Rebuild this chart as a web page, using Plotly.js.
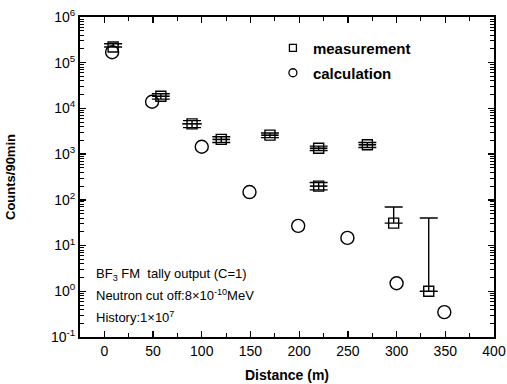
<!DOCTYPE html>
<html>
<head>
<meta charset="utf-8">
<script src="https://cdn.plot.ly/plotly-3.0.1.min.js"></script>
<style>html,body{margin:0;padding:0;background:#fff;}#chart{width:507px;height:384px;}</style>
</head>
<body>
<div id="chart"></div>
<script>
// Measurement (squares)
const measDistance = [9, 58, 90, 120, 170, 220, 220, 270, 297, 333];
const measCounts   = [2.2e5, 1.85e4, 4.6e3, 2.1e3, 2.6e3, 1.35e3, 200, 1.6e3, 31, 1.0];
const measErrXPlus = [0, 9, 10, 9, 9, 9, 9, 9, 0, 0];
const measErrYPlus = [0.4e5, 2500, 800, 300, 300, 150, 40, 200, 39, 39];
const measErrYMinus= [0, 2500, 800, 300, 300, 150, 35, 200, 0, 0];
// Calculation (circles)
const calcDistance = [8, 49, 100, 149, 199, 249.5, 300, 349];
const calcCounts   = [1.7e5, 1.4e4, 1.45e3, 148, 27, 14.7, 1.5, 0.35];
// Axis ticks
const yTickVals = [0.1, 1, 10, 100, 1e3, 1e4, 1e5, 1e6];
const yTickText = ['10<sup>-1</sup>','10<sup>0</sup>','10<sup>1</sup>','10<sup>2</sup>','10<sup>3</sup>','10<sup>4</sup>','10<sup>5</sup>','10<sup>6</sup>'];
const seriesNames = ['measurement', 'calculation'];

const yMinor = [];
for (let e = -1; e < 6; e++) for (let m = 2; m <= 9; m++) yMinor.push(m * Math.pow(10, e));

const FONT = 'Liberation Sans, Arial, sans-serif';

const traces = [
  {
    x: measDistance, y: measCounts, type: 'scatter', mode: 'markers',
    name: seriesNames[0], showlegend: false,
    marker: {symbol: 'square-open', size: 10, color: '#000', line: {width: 1.4, color: '#000'}},
    error_x: {type: 'data', array: measErrXPlus, symmetric: true, width: 0, thickness: 1.6, color: '#000'},
    error_y: {type: 'data', array: measErrYPlus, arrayminus: measErrYMinus, symmetric: false, width: 9, thickness: 1.4, color: '#000'}
  },
  {
    x: calcDistance, y: calcCounts, type: 'scatter', mode: 'markers',
    name: seriesNames[1], showlegend: false,
    marker: {symbol: 'circle-open', size: 13, color: '#000', line: {width: 1.4, color: '#000'}}
  },
  // legend entries (small symbols as in the reference key)
  {
    x: [null], y: [null], type: 'scatter', mode: 'markers', name: seriesNames[0], legend: 'legend',
    marker: {symbol: 'square-open', size: 7, color: '#000', line: {width: 1.3, color: '#000'}}
  },
  {
    x: [null], y: [null], type: 'scatter', mode: 'markers', name: seriesNames[1], legend: 'legend2',
    marker: {symbol: 'circle-open', size: 8, color: '#000', line: {width: 1.3, color: '#000'}}
  }
];

const legendFont = {size: 15, family: FONT, weight: 'bold'};

const layout = {
  width: 507, height: 384,
  margin: {l: 80, r: 13, t: 17, b: 47},
  paper_bgcolor: '#fff', plot_bgcolor: '#fff',
  font: {family: FONT, color: '#000', size: 13},
  xaxis: {
    range: [-25, 400], dtick: 50, tick0: 0,
    ticks: 'inside', ticklen: 6, tickwidth: 1.3, tickcolor: '#000',
    showline: true, linewidth: 2, linecolor: '#000', mirror: 'ticks',
    showgrid: false, zeroline: false,
    minor: {dtick: 25, ticks: 'inside', ticklen: 4, tickwidth: 1, tickcolor: '#000', showgrid: false},
    tickfont: {size: 14, family: FONT},
    title: {text: '<b>Distance (m)</b>', font: {size: 14, family: FONT}, standoff: 12}
  },
  yaxis: {
    type: 'log', range: [-1, 6],
    tickvals: yTickVals, ticktext: yTickText,
    ticks: 'inside', ticklen: 6, tickwidth: 1.3, tickcolor: '#000',
    showline: true, linewidth: 2, linecolor: '#000', mirror: 'ticks',
    showgrid: false, zeroline: false,
    minor: {tickvals: yMinor, ticks: 'inside', ticklen: 4, tickwidth: 1, tickcolor: '#000', showgrid: false},
    tickfont: {size: 14, family: FONT},
    title: {text: '<b>Counts/90min</b>', font: {size: 13, family: FONT}, standoff: 32}
  },
  showlegend: true,
  legend: {x: 0.466, y: 0.903, xanchor: 'left', yanchor: 'middle', bgcolor: 'rgba(0,0,0,0)',
           font: legendFont, itemwidth: 30},
  legend2: {x: 0.466, y: 0.825, xanchor: 'left', yanchor: 'middle', bgcolor: 'rgba(0,0,0,0)',
           font: legendFont, itemwidth: 30},
  annotations: [
    {xref: 'paper', yref: 'paper', x: 0.033, y: 0.195, xanchor: 'left', yanchor: 'middle', showarrow: false,
     text: 'BF<sub>3</sub> FM  tally output (C=1)', font: {size: 13, family: FONT}},
    {xref: 'paper', yref: 'paper', x: 0.033, y: 0.131, xanchor: 'left', yanchor: 'middle', showarrow: false,
     text: 'Neutron cut off:8×10<sup>-10</sup>MeV', font: {size: 13, family: FONT}},
    {xref: 'paper', yref: 'paper', x: 0.033, y: 0.0625, xanchor: 'left', yanchor: 'middle', showarrow: false,
     text: 'History:1×10<sup>7</sup>', font: {size: 13, family: FONT}}
  ]
};

Plotly.newPlot('chart', traces, layout, {staticPlot: true, displayModeBar: false});
</script>
</body>
</html>
